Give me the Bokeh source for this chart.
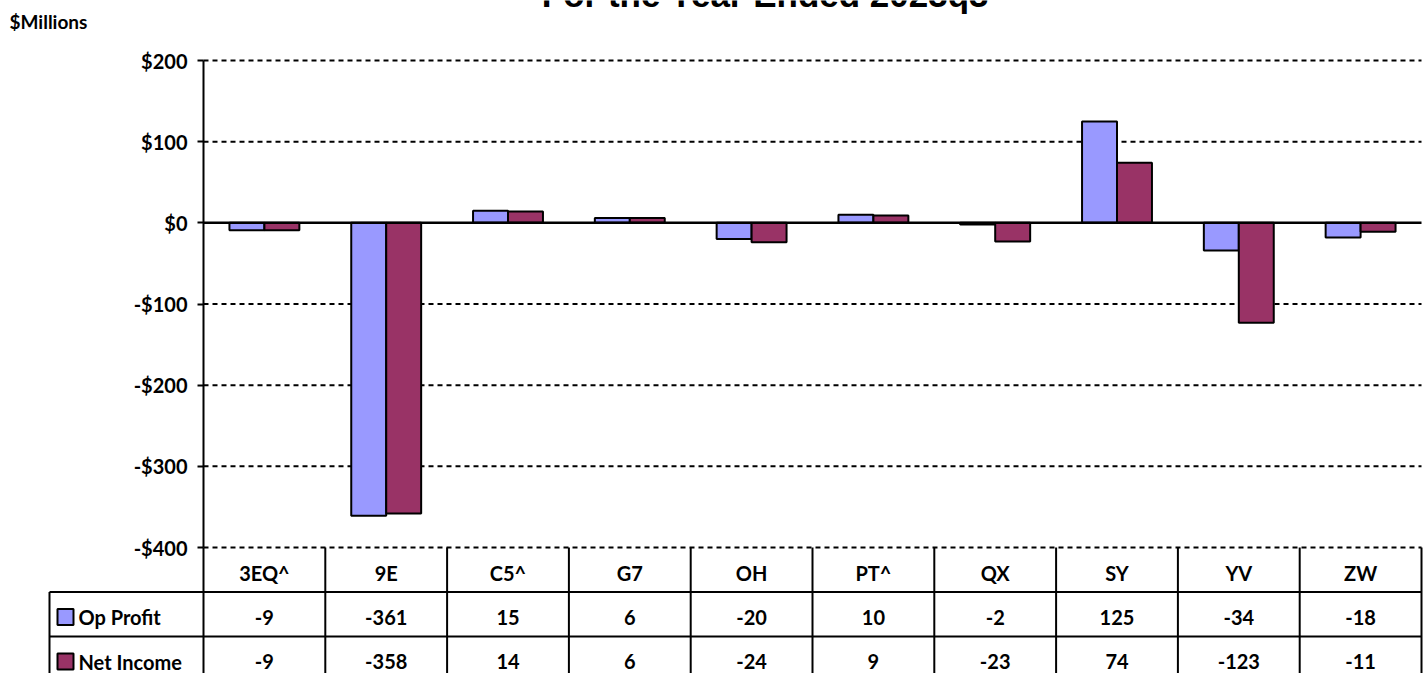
from bokeh.plotting import figure
from bokeh.models import Range1d, FixedTicker, LinearAxis, ColumnDataSource
from bokeh.embed import file_html
from bokeh.resources import INLINE
from bokeh.core.properties import value

# ---------------- data ----------------
categories = ["3EQ^", "9E", "C5^", "G7", "OH", "PT^", "QX", "SY", "YV", "ZW"]
op_profit = [-9, -361, 15, 6, -20, 10, -2, 125, -34, -18]
net_income = [-9, -358, 14, 6, -24, 9, -23, 74, -123, -11]
series_names = ["Op Profit", "Net Income"]
series_colors = ["#9999FF", "#993366"]
y_ticks = [-400, -300, -200, -100, 0, 100, 200]
y_tick_labels = ["-$400", "-$300", "-$200", "-$100", "$0", "$100", "$200"]
title_text = "For the Year Ended 2023q3"
unit_label = "$Millions"

FONT = "Lato"
W, H = 1427, 673

# ---------------- layout (pixels) ----------------
AX_X = 203          # y-axis / first table column left edge
COL_W = 121.8       # width of one category column
Y_TOP_PX = 60       # pixel of top tick
Y_BOT_PX = 547      # pixel of bottom tick
y_lo, y_hi = min(y_ticks), max(y_ticks)
PX_PER_UNIT = (Y_BOT_PX - Y_TOP_PX) / (y_hi - y_lo)


def px_x(px):
    return (px - AX_X) / COL_W


def px_y(px):
    return y_hi - (px - Y_TOP_PX) / PX_PER_UNIT


p = figure(width=W, height=H,
           x_range=Range1d(px_x(0), px_x(W)),
           y_range=Range1d(px_y(H), px_y(0)),
           output_backend="svg", toolbar_location=None, title=None,
           x_axis_location=None, y_axis_location=None,
           min_border_left=0, min_border_right=0, min_border_top=0, min_border_bottom=0)
p.outline_line_color = None
p.grid.visible = False

n = len(categories)
x_right = float(n)

# y axis fixed at the left edge of the category area
yaxis = LinearAxis(fixed_location=0, ticker=FixedTicker(ticks=y_ticks), bounds=(y_lo, y_hi))
yaxis.major_label_overrides = {t: l for t, l in zip(y_ticks, y_tick_labels)}
yaxis.axis_line_color = "black"
yaxis.axis_line_width = 2
yaxis.major_tick_line_color = "black"
yaxis.major_tick_line_width = 2
yaxis.major_tick_out = 6
yaxis.major_tick_in = 0
yaxis.minor_tick_line_color = None
yaxis.major_label_text_font = FONT
yaxis.major_label_text_font_style = "bold"
yaxis.major_label_text_font_size = "20px"
yaxis.major_label_text_color = "black"
yaxis.major_label_standoff = 10
p.add_layout(yaxis, "left")

# dashed gridlines (all ticks except zero) and solid zero line
grid_vals = [v for v in y_ticks if v != 0]
p.segment(x0=[0] * len(grid_vals), x1=[x_right] * len(grid_vals), y0=grid_vals, y1=grid_vals,
          line_color="black", line_width=2, line_dash="5 4")

# bars
bw = 0.287
cx = [i + 0.5 for i in range(n)]
src = ColumnDataSource(dict(x_op=[c - bw / 2 for c in cx], x_net=[c + bw / 2 for c in cx],
                            op=op_profit, net=net_income))
p.vbar(x="x_op", top="op", bottom=0, width=bw, fill_color=series_colors[0],
       line_color="black", line_width=2, source=src)
p.vbar(x="x_net", top="net", bottom=0, width=bw, fill_color=series_colors[1],
       line_color="black", line_width=2, source=src)
p.segment(x0=[0], x1=[x_right], y0=[0], y1=[0], line_color="black", line_width=2.5)

# title (cut off at top like the reference) and unit label
p.text(x=[px_x(765)], y=[px_y(-6)], text=[title_text], text_align="center",
       text_baseline="middle", text_font=value("Liberation Sans"), text_font_style="bold",
       text_font_size="35px", text_color="black")
p.text(x=[px_x(9)], y=[px_y(20.5)], text=[unit_label], text_align="left",
       text_baseline="middle", text_font=value(FONT), text_font_style="bold",
       text_font_size="19px", text_color="black")

# ---------------- data table ----------------
row_tops_px = [547, 591.5, 636, 680.5]
rt = [px_y(v) for v in row_tops_px]
x_left = px_x(49)
t_bot = px_y(H + 5)

vx = list(range(n + 1))
p.segment(x0=vx, y0=[rt[0]] * (n + 1), x1=vx, y1=[t_bot] * (n + 1), line_color="black", line_width=2)
p.segment(x0=[x_left], y0=[rt[1]], x1=[x_left], y1=[t_bot], line_color="black", line_width=2)
p.segment(x0=[x_left, x_left], y0=[rt[1], rt[2]], x1=[x_right, x_right], y1=[rt[1], rt[2]],
          line_color="black", line_width=2)

txt_y = [px_y(v + 25) for v in row_tops_px[:3]]
txt_kw = dict(text_font=value(FONT), text_font_style="bold", text_font_size="20px",
              text_align="center", text_baseline="middle", text_color="black")
p.text(x=cx, y=[txt_y[0]] * n, text=categories, **txt_kw)
p.text(x=cx, y=[txt_y[1]] * n, text=[str(v) for v in op_profit], **txt_kw)
p.text(x=cx, y=[txt_y[2]] * n, text=[str(v) for v in net_income], **txt_kw)

sw_x = px_x(65)
p.scatter(x=[sw_x, sw_x], y=[txt_y[1], txt_y[2]], marker="square", size=16,
          fill_color=series_colors, line_color="black", line_width=2)
lab_kw = dict(txt_kw)
lab_kw["text_align"] = "left"
p.text(x=[px_x(78)] * 2, y=[txt_y[1], txt_y[2]], text=series_names, **lab_kw)

open("out.html", "w").write(file_html(p, INLINE))
